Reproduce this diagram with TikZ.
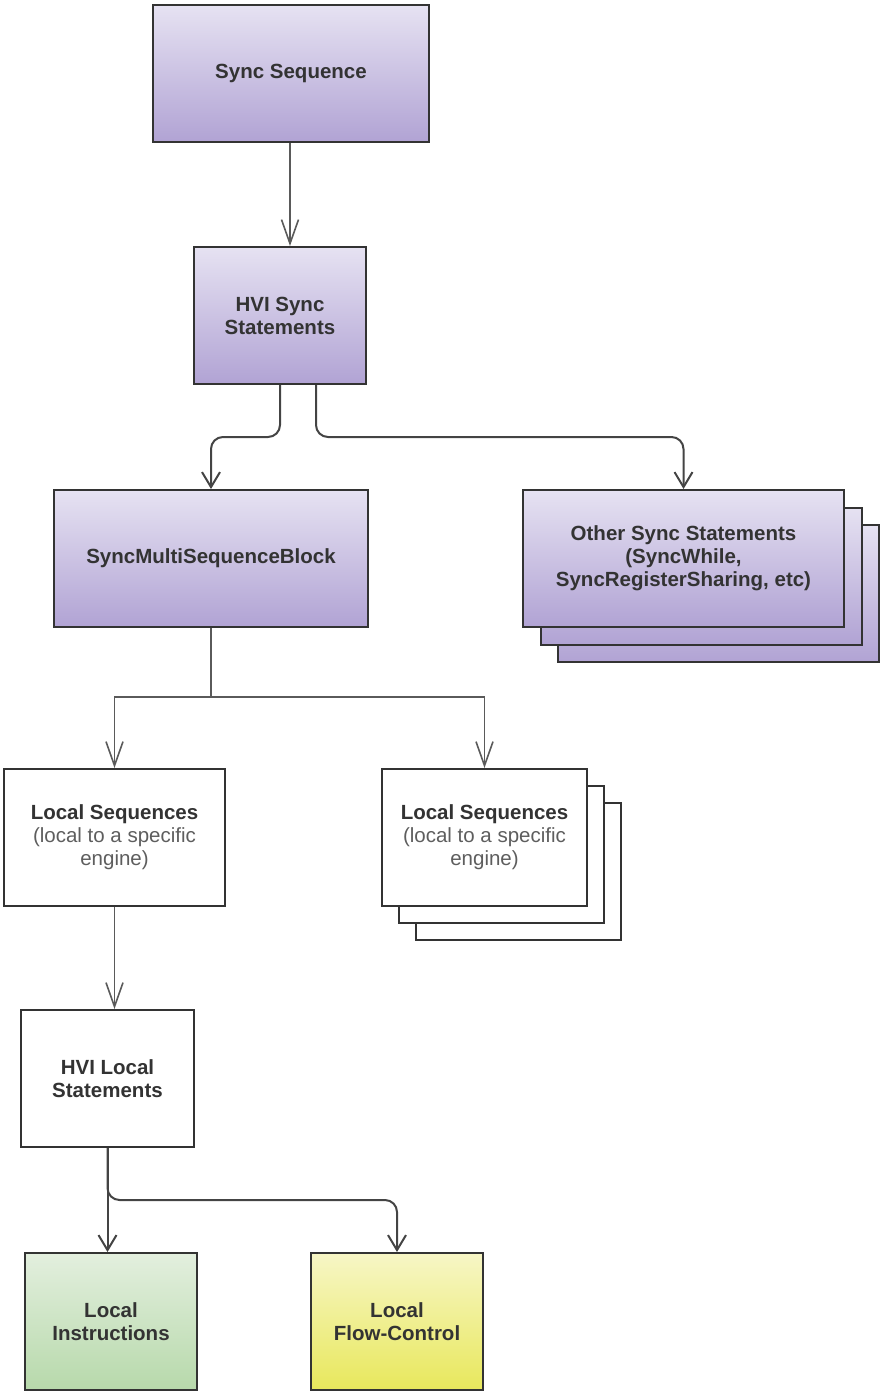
\documentclass[tikz,border=0pt]{standalone}
\usepackage{fontspec}
\setmainfont{Liberation Sans}
\usetikzlibrary{positioning,arrows.meta}
\definecolor{boxline}{HTML}{333333}
\definecolor{txtdark}{HTML}{333333}
\definecolor{subgrey}{HTML}{5E5E5E}
\definecolor{purpletop}{HTML}{E6E2F2}
\definecolor{purplebot}{HTML}{B1A3D4}
\definecolor{greentop}{HTML}{E3EFDE}
\definecolor{greenbot}{HTML}{B7D9AB}
\definecolor{yellowtop}{HTML}{F7F6C6}
\definecolor{yellowbot}{HTML}{E8E85C}
\definecolor{lightline}{HTML}{5A5A5A}
\definecolor{darkline}{HTML}{444444}
\newcommand{\lsnote}[1]{{\mdseries\color{subgrey}#1}}

\begin{document}
\begin{tikzpicture}[x=1pt, y=-1pt,
    boxnode/.style={rectangle, draw=boxline, line width=2pt, minimum height=137pt, inner sep=2pt,
                    align=center, text=txtdark, font=\fontsize{20.5}{23}\selectfont\bfseries},
    syncnode/.style={boxnode, top color=purpletop, bottom color=purplebot},
    localnode/.style={boxnode, fill=white},
    instrnode/.style={boxnode, top color=greentop, bottom color=greenbot},
    flownode/.style={boxnode, top color=yellowtop, bottom color=yellowbot},
    conn/.style={draw=lightline, line width=1.6pt, -{Straight Barb[length=24pt, width=17pt]}},
    connd/.style={draw=darkline, line width=2pt, rounded corners=12pt, -{Straight Barb[length=15pt, width=18pt]}}
   ]
   \useasboundingbox (0,0) rectangle (880,1395);

   \node[syncnode, minimum width=276pt] (syncseq) at (291,73.5) {Sync Sequence};
   \node[syncnode, minimum width=172pt] (hvisync) at (280,315.5) {HVI Sync\\Statements};
   \node[syncnode, minimum width=314pt] (multiblock) at (211,558.5) {SyncMultiSequenceBlock};

   % stacked sheets, back ones first
   \node[syncnode, minimum width=321pt] (othersync3) at (718.5,593.5) {};
   \node[syncnode, minimum width=321pt] (othersync2) at (701,576) {};
   \node[syncnode, minimum width=321pt] (othersync) at (683.5,558.5)
        {Other Sync Statements\\(SyncWhile,\\SyncRegisterSharing, etc)};

   \node[localnode, minimum width=221pt] (localseq) at (114.5,837.5)
        {Local Sequences\\\lsnote{(local to a specific}\\\lsnote{engine)}};
   \node[localnode, minimum width=205pt] (localseqs3) at (518.5,871.5) {};
   \node[localnode, minimum width=205pt] (localseqs2) at (501.5,854.5) {};
   \node[localnode, minimum width=205pt] (localseqs) at (484.5,837.5)
        {Local Sequences\\\lsnote{(local to a specific}\\\lsnote{engine)}};

   \node[localnode, minimum width=173pt] (hvilocal) at (107.5,1078.5) {HVI Local\\Statements};
   \node[instrnode, minimum width=172pt] (localinstr) at (111,1321.5) {Local\\Instructions};
   \node[flownode, minimum width=172pt] (localflow) at (397,1321.5) {Local\\Flow-Control};

   \coordinate (split) at (211,697);

  \draw[conn] ([xshift=-1pt]syncseq.south) -- ([xshift=-1pt]syncseq.south |- hvisync.north);
  \draw[connd] (hvisync.south) -- ++(0,52) -| (multiblock.north);
  \draw[connd] ([xshift=36pt]hvisync.south) -- ++(0,52) -| (othersync.north);
  \draw[draw=lightline, line width=1.6pt] (multiblock.south) -- (split);
  \draw[conn] (split) -| (localseq.north);
  \draw[conn] (split) -| (localseqs.north);
  \draw[conn] (localseq.south) -- (localseq.south |- hvilocal.north);
  \draw[connd] (hvilocal.south) -- (hvilocal.south |- localinstr.north);
  \draw[connd] (hvilocal.south) -- ++(0,52) -| (localflow.north);
 \end{tikzpicture}
\end{document}
